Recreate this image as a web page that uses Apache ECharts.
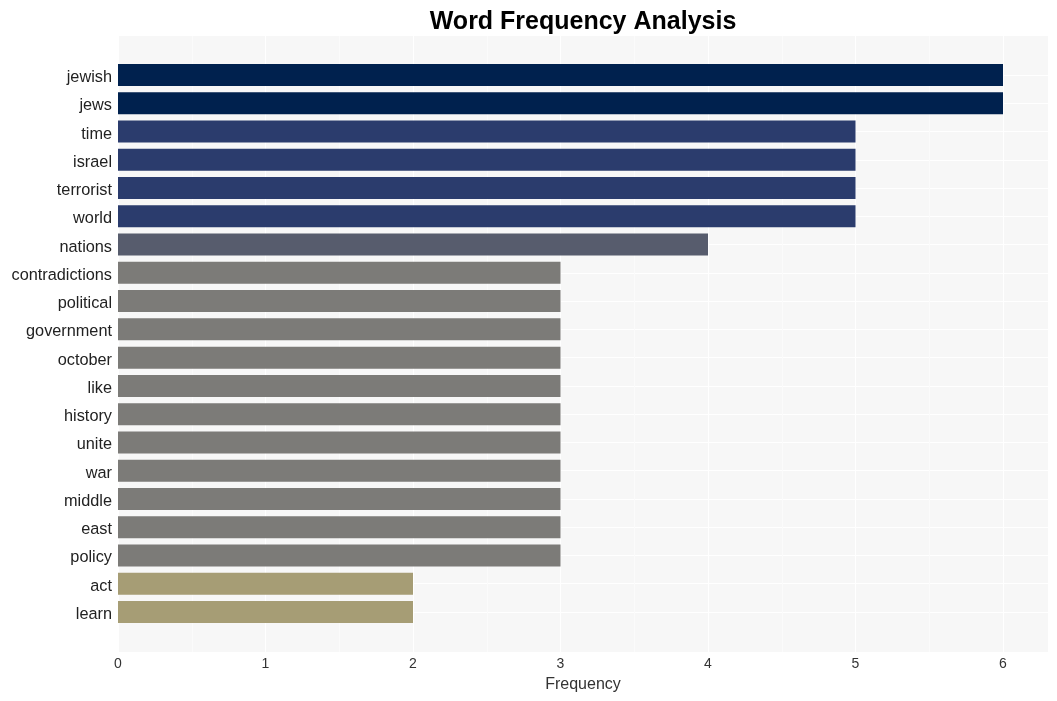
<!DOCTYPE html>
<html>
<head>
<meta charset="utf-8">
<script src="https://cdn.jsdelivr.net/npm/echarts@6/dist/echarts.min.js"></script>
<style>
html,body{margin:0;padding:0;background:#fff;}
#chart{width:1057px;height:701px;}
</style>
</head>
<body>
<div id="chart"></div>
<script>
const categories = ['jewish','jews','time','israel','terrorist','world','nations','contradictions','political','government','october','like','history','unite','war','middle','east','policy','act','learn'];
const frequencies = [6,6,5,5,5,5,4,3,3,3,3,3,3,3,3,3,3,3,2,2];
const xTicks = [0,1,2,3,4,5,6];

const colorByValue = {6:'#00214e',5:'#2b3c6d',4:'#575c6d',3:'#7c7b78',2:'#a69d75'};
const xMax = 6.305;
const font = '"Liberation Sans", Arial, sans-serif';

const chart = echarts.init(document.getElementById('chart'));
chart.setOption({
  backgroundColor: '#ffffff',
  animation: false,
  title: {
    text: 'Word Frequency Analysis',
    left: 578, top: 5, textAlign: 'center',
    textStyle: {fontFamily: font, fontSize: 25, fontWeight: 'bold', color: '#000'}
  },
  grid: [
    {left: 118, right: 9, top: 36, bottom: 49, show: true, backgroundColor: '#f7f7f7', borderWidth: 0, containLabel: false},
    {left: 118, right: 9, top: 75, bottom: 89, containLabel: false}
  ],
  xAxis: [
    {
      type: 'value', gridIndex: 0, min: 0, max: xMax, interval: 1,
      axisLine: {show: false}, axisTick: {show: false},
      axisLabel: {
        fontFamily: font, fontSize: 14, color: '#333', margin: 5,
        formatter: v => (xTicks.indexOf(v) >= 0 ? String(v) : '')
      },
      splitLine: {show: true, lineStyle: {color: '#ffffff', width: 1}},
      minorTick: {show: false, splitNumber: 2},
      minorSplitLine: {show: true, lineStyle: {color: '#fbfbfb', width: 1}},
      name: 'Frequency', nameLocation: 'middle', nameGap: 25,
      nameTextStyle: {fontFamily: font, fontSize: 16, color: '#333'}
    },
    {
      type: 'value', gridIndex: 1, min: 0, max: xMax, interval: 1,
      show: false
    }
  ],
  yAxis: [
    {type: 'value', gridIndex: 0, show: false, splitLine: {show: false}},
    {
      type: 'category', gridIndex: 1, data: categories, inverse: true, boundaryGap: false,
      axisLine: {show: false}, axisTick: {show: false},
      axisLabel: {
        margin: 6,
        formatter: v => '{a|' + v + '}',
        rich: {a: {fontFamily: font, fontSize: 16.3, color: '#222', padding: [5, 0, 0, 0]}}
      },
      splitLine: {show: true, lineStyle: {color: '#ffffff', width: 1}}
    }
  ],
  series: [{
    type: 'bar', xAxisIndex: 1, yAxisIndex: 1, barWidth: 22,
    data: frequencies.map(v => ({value: v, itemStyle: {color: colorByValue[v]}}))
  }]
});
</script>
</body>
</html>
